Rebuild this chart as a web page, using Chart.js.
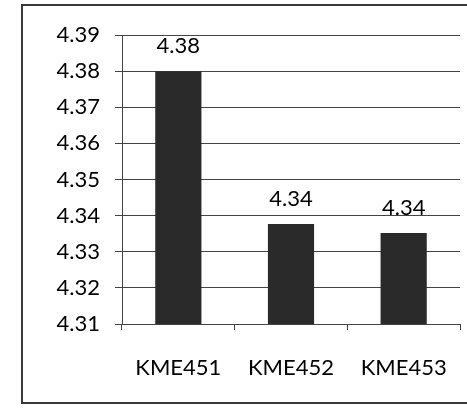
<!DOCTYPE html>
<html>
<head>
<meta charset="utf-8">
<script src="https://cdn.jsdelivr.net/npm/chart.js@4/dist/chart.umd.min.js"></script>
<style>
  html, body { margin: 0; padding: 0; background: #fff; overflow: hidden; }
  #wrap { position: relative; width: 467px; height: 410px; overflow: hidden; }
  #frame {
    position: absolute; left: 21px; top: 4px; width: 460px; height: 396px;
    border: 2px solid #3a3a3a; border-right: none;
  }
  #chart { position: absolute; left: 0; top: 0; }
</style>
</head>
<body>
<div id="wrap">
  <div id="frame"></div>
  <canvas id="chart" width="467" height="410"></canvas>
</div>
<script>
'use strict';

const categories = ['KME451', 'KME452', 'KME453'];
const scores = [4.38, 4.3377, 4.3352];
const yTicks = [4.31, 4.32, 4.33, 4.34, 4.35, 4.36, 4.37, 4.38, 4.39];

const font = { family: 'Lato, "Open Sans", sans-serif', size: 22 };
// taller line box pushes the category labels down without widening the side padding
const xFont = { ...font, lineHeight: 2.56 };

const valueLabels = {
  id: 'valueLabels',
  afterDatasetsDraw(chart) {
    const { ctx } = chart;
    const meta = chart.getDatasetMeta(0);
    ctx.save();
    ctx.font = `${font.size}px ${font.family}`;
    ctx.fillStyle = '#000';
    ctx.textAlign = 'center';
    ctx.textBaseline = 'bottom';
    meta.data.forEach((bar, i) => {
      ctx.fillText(scores[i].toFixed(2), bar.x, bar.y - 14);
    });
    ctx.restore();
  }
};

new Chart(document.getElementById('chart'), {
  type: 'bar',
  data: {
    labels: categories,
    datasets: [{
      data: scores,
      backgroundColor: '#2a2a2a',
      categoryPercentage: 1,
      barPercentage: 0.41
    }]
  },
  options: {
    responsive: false,
    animation: false,
    layout: { padding: { top: 35, right: 7, left: 0, bottom: 0 } },
    plugins: { legend: { display: false }, tooltip: { enabled: false } },
    scales: {
      x: {
        grid: { offset: true, drawOnChartArea: false, tickLength: 6, color: '#444' },
        border: { color: '#444' },
        ticks: { color: '#000', font: xFont, padding: 10 },
        afterFit(scale) { scale.height = 86; }
      },
      y: {
        min: yTicks[0],
        max: yTicks[yTicks.length - 1],
        afterBuildTicks(scale) { scale.ticks = yTicks.map((v) => ({ value: v })); },
        grid: { color: '#444', tickLength: 7 },
        border: { color: '#444' },
        ticks: {
          color: '#000', font, padding: 15,
          callback: (v) => Number(v).toFixed(2)
        },
        afterFit(scale) { scale.width = 122; }
      }
    }
  },
  plugins: [valueLabels]
});
</script>
</body>
</html>
